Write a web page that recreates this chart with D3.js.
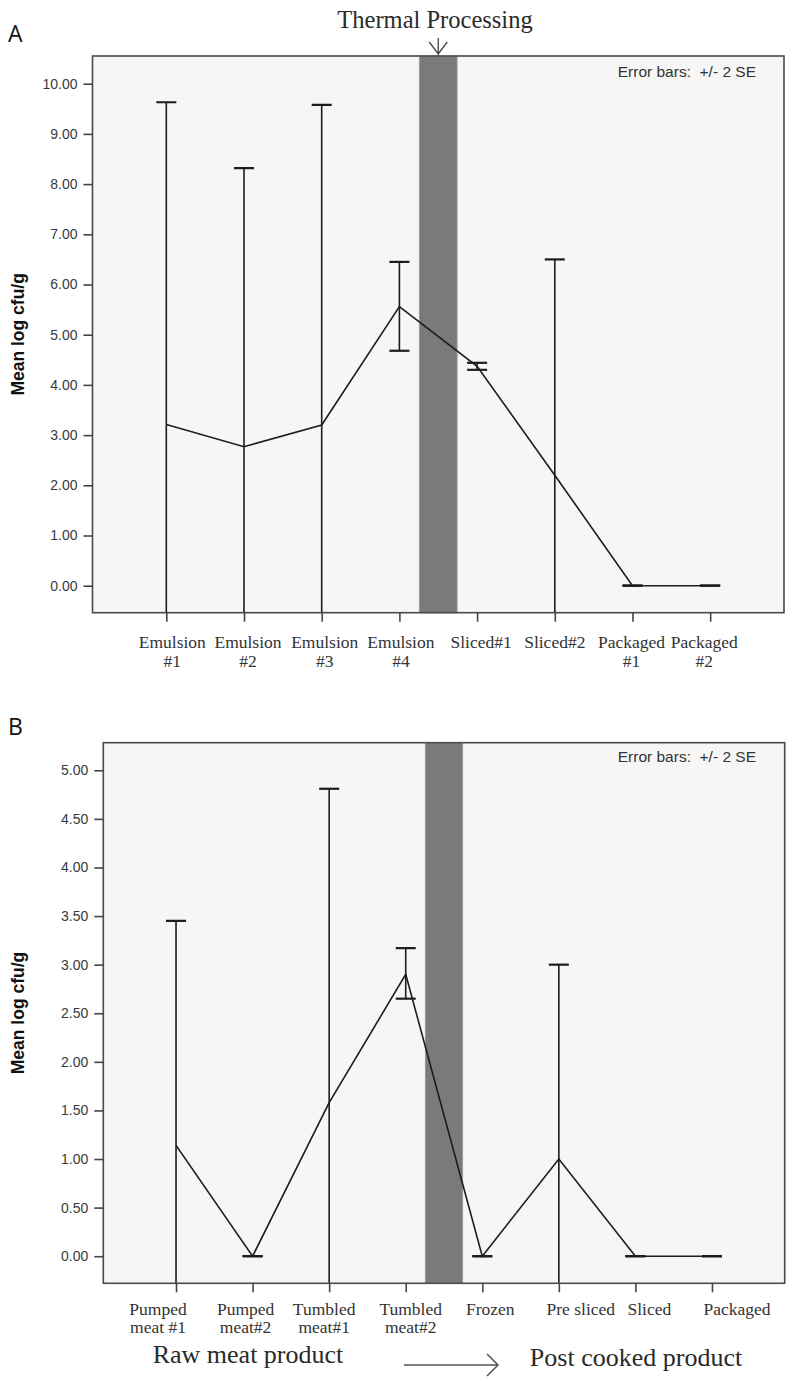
<!DOCTYPE html>
<html>
<head>
<meta charset="utf-8">
<script src="https://cdn.jsdelivr.net/npm/d3@7/dist/d3.min.js"></script>
<style>
  html, body { margin: 0; padding: 0; background: #ffffff; }
  svg { display: block; }
</style>
</head>
<body>
<div id="chart"></div>
<script>
// ---------------- DATA ----------------
const categoriesA = ["Emulsion\n#1", "Emulsion\n#2", "Emulsion\n#3", "Emulsion\n#4", "Sliced#1", "Sliced#2", "Packaged\n#1", "Packaged\n#2"];
const meansA = [3.21, 2.77, 3.20, 5.56, 4.37, 2.20, 0, 0];
const upperA = [9.63, 8.32, 9.58, 6.45, 4.44, 6.50, 0, 0];
const lowerA = [-3.21, -2.78, -3.18, 4.68, 4.30, -2.10, 0, 0];
const yTicksA = [0, 1, 2, 3, 4, 5, 6, 7, 8, 9, 10];

const categoriesB = ["Pumped\nmeat #1", "Pumped\nmeat#2", "Tumbled\nmeat#1", "Tumbled\nmeat#2", "Frozen", "Pre sliced", "Sliced", "Packaged"];
const meansB = [1.14, 0, 1.58, 2.90, 0, 1.00, 0, 0];
const upperB = [3.45, 0, 4.81, 3.17, 0, 3.00, 0, 0];
const lowerB = [-1.17, 0, -1.65, 2.65, 0, -1.00, 0, 0];
const yTicksB = [0, 0.5, 1, 1.5, 2, 2.5, 3, 3.5, 4, 4.5, 5];

const titleText = "Thermal Processing";
const errorNote = "Error bars:  +/- 2 SE";
const yTitle = "Mean log cfu/g";
const bottomLeftText = "Raw meat product";
const bottomRightText = "Post cooked product";

// ---------------- LAYOUT ----------------
const W = 788, H = 1378;
const SERIF = "'Liberation Serif', 'Times New Roman', serif";
const SANS = "'Liberation Sans', Arial, sans-serif";
// hand-placed label offsets (pixels) relative to each tick, as in the original figure
const labelNudgeA = [6, 4, 3, 1.5, 4, 0, -1, -6];
const labelNudgeB = [-18, -7, -5, 5, 8, 22, 14, 25];

const svg = d3.select("#chart").append("svg").attr("width", W).attr("height", H);

function drawPanel(opt) {
  const { id, cats, means, upper, lower, ticks, frame, yTop, yZero, topVal, panelLabel, labelY, noteY, labelBase, lineGap, nudge } = opt;
  const x = d3.scalePoint().domain(cats).range([frame.x0, frame.x1]).padding(0.95);
  const y = d3.scaleLinear().domain([0, topVal]).range([yZero, yTop]);
  const step = x.step();

  const g = svg.append("g");

  g.append("rect")
    .attr("x", frame.x0).attr("y", frame.y0)
    .attr("width", frame.x1 - frame.x0).attr("height", frame.y1 - frame.y0)
    .attr("fill", "#f6f6f6");

  svg.append("clipPath").attr("id", "clip" + id).append("rect")
    .attr("x", frame.x0).attr("y", frame.y0)
    .attr("width", frame.x1 - frame.x0).attr("height", frame.y1 - frame.y0);

  const mid = (x(cats[3]) + x(cats[4])) / 2;
  const bw = step * 0.485;
  g.append("rect")
    .attr("x", mid - bw / 2).attr("y", frame.y0)
    .attr("width", bw).attr("height", frame.y1 - frame.y0)
    .attr("fill", "#7a7a7a").attr("stroke", "#9a9a9a").attr("stroke-width", 1);

  const plot = g.append("g").attr("clip-path", "url(#clip" + id + ")");

  const line = d3.line().x((d, i) => x(cats[i])).y(d => y(d));
  plot.append("path").datum(means)
    .attr("d", line).attr("fill", "none")
    .attr("stroke", "#1c1c1c").attr("stroke-width", 1.6);

  const cw = 10;
  cats.forEach((c, i) => {
    const cx = x(c);
    plot.append("line")
      .attr("x1", cx).attr("x2", cx)
      .attr("y1", y(lower[i])).attr("y2", y(upper[i]))
      .attr("stroke", "#1c1c1c").attr("stroke-width", 1.6);
    [upper[i], lower[i]].forEach(v => {
      plot.append("line")
        .attr("x1", cx - cw).attr("x2", cx + cw)
        .attr("y1", y(v)).attr("y2", y(v))
        .attr("stroke", "#1c1c1c").attr("stroke-width", 2.2);
    });
  });

  g.append("rect")
    .attr("x", frame.x0).attr("y", frame.y0)
    .attr("width", frame.x1 - frame.x0).attr("height", frame.y1 - frame.y0)
    .attr("fill", "none").attr("stroke", "#4a4a4a").attr("stroke-width", 1.6);

  const yAxis = d3.axisLeft(y).tickValues(ticks).tickFormat(d3.format(".2f")).tickSize(9).tickPadding(6);
  const ya = g.append("g").attr("transform", `translate(${frame.x0},0)`).call(yAxis);
  ya.select(".domain").remove();
  ya.selectAll(".tick line").attr("stroke", "#444").attr("stroke-width", 1.6);
  ya.selectAll(".tick text").attr("font-family", SANS).attr("font-size", 14).attr("fill", "#3a3a3a");

  const xAxis = d3.axisBottom(x).tickSize(9).tickFormat("");
  const xa = g.append("g").attr("transform", `translate(0,${frame.y1})`).call(xAxis);
  xa.select(".domain").remove();
  xa.selectAll(".tick line").attr("stroke", "#444").attr("stroke-width", 1.6);

  cats.forEach((c, i) => {
    const t = g.append("text")
      .attr("font-family", SERIF).attr("font-size", 17.5).attr("fill", "#333")
      .attr("text-anchor", "middle");
    c.split("\n").forEach((s, k) => {
      t.append("tspan").attr("x", x(c) + nudge[i]).attr("y", labelBase + k * lineGap).text(s);
    });
  });

  g.append("text")
    .attr("transform", `translate(24,${(frame.y0 + frame.y1) / 2}) rotate(-90)`)
    .attr("text-anchor", "middle")
    .attr("font-family", SANS).attr("font-weight", "bold").attr("font-size", 17.5)
    .attr("fill", "#111").text(yTitle);

  g.append("text")
    .attr("x", 756).attr("y", noteY)
    .attr("text-anchor", "end").attr("xml:space", "preserve").style("white-space", "pre")
    .attr("font-family", SANS).attr("font-size", 15.5).attr("fill", "#333")
    .text(errorNote);

  svg.append("text")
    .attr("x", 8).attr("y", labelY)
    .attr("font-family", "'Open Sans', sans-serif").attr("font-size", 23)
    .attr("fill", "#111").text(panelLabel);

  return { x, y, mid };
}

const pA = drawPanel({
  id: "A", cats: categoriesA, means: meansA, upper: upperA, lower: lowerA, ticks: yTicksA,
  frame: { x0: 92.5, x1: 784, y0: 56, y1: 612.7 },
  yTop: 83.7, yZero: 585.7, topVal: 10,
  panelLabel: "A", labelY: 41.5, noteY: 77, labelBase: 647.5, lineGap: 19.5, nudge: labelNudgeA
});

const pB = drawPanel({
  id: "B", cats: categoriesB, means: meansB, upper: upperB, lower: lowerB, ticks: yTicksB,
  frame: { x0: 103.3, x1: 784.7, y0: 742.7, y1: 1283.3 },
  yTop: 770.3, yZero: 1256.2, topVal: 5,
  panelLabel: "B", labelY: 735.2, noteY: 762, labelBase: 1314.5, lineGap: 18.5, nudge: labelNudgeB
});

svg.append("text")
  .attr("x", 435).attr("y", 28)
  .attr("text-anchor", "middle")
  .attr("font-family", SERIF).attr("font-size", 24.5).attr("fill", "#2a2a2a")
  .text(titleText);
const ax = pA.mid;
svg.append("path")
  .attr("d", `M${ax},38 L${ax},55 M${ax - 9},42 L${ax},54 L${ax + 9},42`)
  .attr("fill", "none").attr("stroke", "#444").attr("stroke-width", 1.3);

svg.append("text")
  .attr("x", 248).attr("y", 1363)
  .attr("text-anchor", "middle")
  .attr("font-family", SERIF).attr("font-size", 26).attr("fill", "#2a2a2a")
  .text(bottomLeftText);
svg.append("text")
  .attr("x", 636).attr("y", 1366)
  .attr("text-anchor", "middle")
  .attr("font-family", SERIF).attr("font-size", 26).attr("fill", "#2a2a2a")
  .text(bottomRightText);
svg.append("path")
  .attr("d", "M404,1365 L497,1365 M487,1354 L498,1365 L487,1376")
  .attr("fill", "none").attr("stroke", "#555").attr("stroke-width", 1.5);
</script>
</body>
</html>
